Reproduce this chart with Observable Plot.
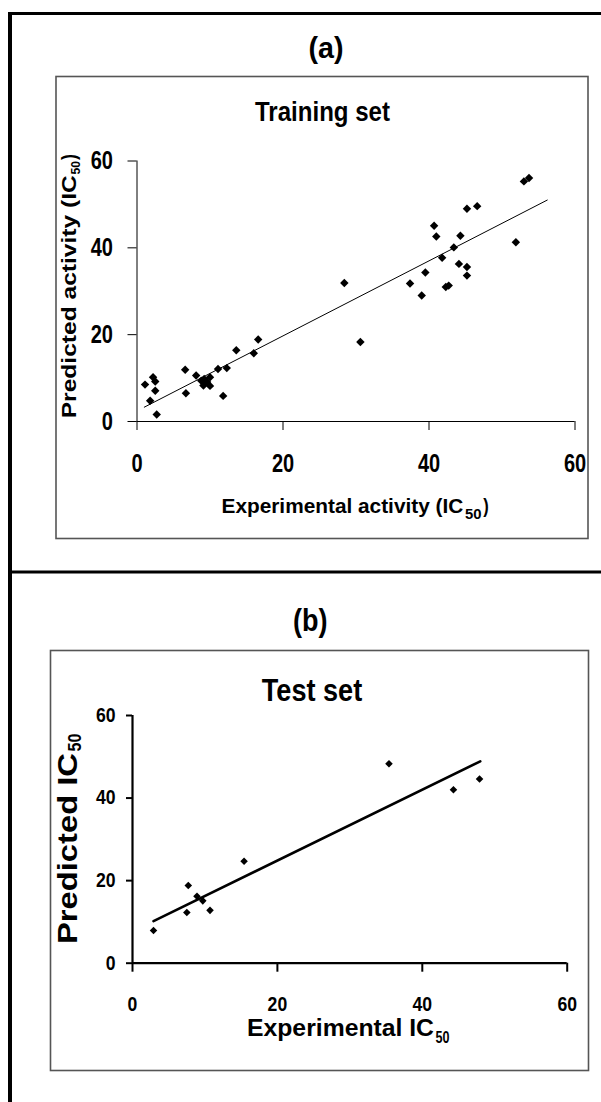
<!DOCTYPE html>
<html>
<head>
<meta charset="utf-8">
<script src="https://cdn.jsdelivr.net/npm/d3@7"></script>
<script src="https://cdn.jsdelivr.net/npm/@observablehq/plot@0.6"></script>
<style>
  html, body { margin: 0; padding: 0; background: #fff; }
  #page { position: relative; width: 601px; height: 1102px; overflow: hidden; background: #fff; }
  #page svg { position: absolute; left: 0; }
</style>
</head>
<body>
<div id="page"></div>
<script>
// ---------- data ----------
const axisTicks = [0, 20, 40, 60];

// (a) Training set
const trainExp  = [1.1, 1.8, 2.2, 2.5, 2.5, 2.7, 6.6, 6.7, 8.1, 8.8, 9.1, 9.2, 9.6, 10.0, 10.0, 11.1, 11.8, 12.3, 13.6, 16.0, 16.6,
                   28.4, 30.6, 37.4, 39.0, 39.5, 40.7, 41.0, 41.8, 42.3, 42.7, 43.4, 44.1, 44.3, 45.2, 45.2, 45.2, 46.6, 51.9, 53.0, 53.7];
const trainPred = [8.5, 4.8, 10.2, 9.2, 7.1, 1.6, 11.9, 6.5, 10.6, 9.4, 8.3, 9.8, 9.1, 10.2, 8.2, 12.1, 5.9, 12.3, 16.4, 15.7, 18.9,
                   31.9, 18.3, 31.8, 29.0, 34.3, 45.1, 42.6, 37.7, 31.0, 31.3, 40.1, 36.3, 42.8, 35.6, 33.6, 49.0, 49.6, 41.3, 55.3, 56.1];
const trainFitExp  = [1.0, 56.2];
const trainFitPred = [3.3, 51.0];

// (b) Test set
const testExp  = [2.9, 7.5, 7.7, 8.9, 9.7, 10.7, 15.4, 35.4, 44.3, 47.9];
const testPred = [7.9, 12.3, 18.8, 16.2, 15.1, 12.8, 24.7, 48.3, 42.0, 44.6];
const testFitExp  = [2.9, 48.0];
const testFitPred = [10.2, 48.9];

// ---------- helpers ----------
const FONT = '"Liberation Sans", Arial, Helvetica, sans-serif';
const page = document.getElementById("page");
const NS = "http://www.w3.org/2000/svg";

function squeeze(svg, k) {
  svg.querySelectorAll('g[aria-label$="tick label"] text').forEach(t => {
    const w = t.getComputedTextLength();
    t.setAttribute("textLength", (w * k).toFixed(2));
    t.setAttribute("lengthAdjust", "spacingAndGlyphs");
  });
}

// ---------- chart (a) ----------
const plotA = Plot.plot({
  width: 601, height: 560,
  marginLeft: 136.5, marginRight: 26.5, marginTop: 160.5, marginBottom: 139,
  x: {domain: [0, 60]},
  y: {domain: [0, 60]},
  style: {fontFamily: FONT, fontSize: "25px", fontWeight: "bold", color: "#000", background: "transparent", overflow: "visible"},
  marks: [
    Plot.axisX({ticks: axisTicks, tickSize: 9, tickPadding: 24, label: null, tickFormat: d => String(d)}),
    Plot.axisY({ticks: axisTicks, tickSize: 9, tickPadding: 15, label: null, tickFormat: d => String(d)}),
    Plot.ruleY([0], {stroke: "#000", strokeWidth: 1}),
    Plot.ruleX([0], {stroke: "#000", strokeWidth: 1}),
    Plot.line({length: trainFitExp.length}, {x: trainFitExp, y: trainFitPred, stroke: "#000", strokeWidth: 1}),
    Plot.dot({length: trainExp.length}, {x: trainExp, y: trainPred, symbol: "diamond2", r: 3.8, fill: "#000", stroke: "none"})
  ]
});
plotA.style.top = "0px";
page.appendChild(plotA);
squeeze(plotA, 0.8);

// ---------- chart (b) ----------
const plotB = Plot.plot({
  width: 601, height: 530,
  marginLeft: 132, marginRight: 34.3, marginTop: 143, marginBottom: 139.3,
  x: {domain: [0, 60]},
  y: {domain: [0, 60]},
  style: {fontFamily: FONT, fontSize: "20px", fontWeight: "bold", color: "#000", background: "transparent", overflow: "visible"},
  marks: [
    Plot.axisX({ticks: axisTicks, tickSize: 9, tickPadding: 25, strokeWidth: 2, label: null, tickFormat: d => String(d)}),
    Plot.axisY({ticks: axisTicks, tickSize: 6, tickPadding: 11, strokeWidth: 2, label: null, tickFormat: d => String(d)}),
    Plot.ruleY([0], {stroke: "#000", strokeWidth: 2.2}),
    Plot.ruleX([0], {stroke: "#000", strokeWidth: 2.2}),
    Plot.line({length: testFitExp.length}, {x: testFitExp, y: testFitPred, stroke: "#000", strokeWidth: 2.6}),
    Plot.dot({length: testExp.length}, {x: testExp, y: testPred, symbol: "diamond2", r: 3.4, fill: "#000", stroke: "none"})
  ]
});
plotB.style.top = "572px";
page.appendChild(plotB);
squeeze(plotB, 0.88);

// ---------- overlay: frames, titles, axis titles ----------
const ov = document.createElementNS(NS, "svg");
ov.setAttribute("width", 601);
ov.setAttribute("height", 1102);
ov.setAttribute("viewBox", "0 0 601 1102");
ov.style.top = "0px";
ov.style.pointerEvents = "none";
page.appendChild(ov);

function rect(x, y, w, h, attrs) {
  const r = document.createElementNS(NS, "rect");
  r.setAttribute("x", x); r.setAttribute("y", y);
  r.setAttribute("width", w); r.setAttribute("height", h);
  for (const k in attrs) r.setAttribute(k, attrs[k]);
  ov.appendChild(r);
}
// outer frame lines
rect(8, 12, 4, 1090, {fill: "#000"});
rect(8, 12, 593, 3, {fill: "#000"});
rect(8, 570.5, 593, 3, {fill: "#000"});
// inner boxes
rect(56, 76.5, 532, 462, {fill: "none", stroke: "#555", "stroke-width": 1.6});
rect(50.5, 650.5, 538, 420, {fill: "none", stroke: "#555", "stroke-width": 1.6});

function txt(str, x, y, size, length, rotate) {
  const t = document.createElementNS(NS, "text");
  t.textContent = str;
  t.setAttribute("font-family", FONT);
  t.setAttribute("font-weight", "bold");
  t.setAttribute("font-size", size);
  t.setAttribute("fill", "#000");
  t.setAttribute("text-anchor", "start");
  if (length) {
    t.setAttribute("textLength", length);
    t.setAttribute("lengthAdjust", "spacingAndGlyphs");
  }
  if (rotate) {
    t.setAttribute("transform", `translate(${x},${y}) rotate(-90)`);
  } else {
    t.setAttribute("x", x); t.setAttribute("y", y);
  }
  ov.appendChild(t);
  return t;
}

// panel (a)
txt("(a)", 326 - 17.5, 58, 30, 35);
txt("Training set", 322.5 - 67.5, 120.7, 27, 135);
txt("Experimental activity (IC", 221.5, 513, 21, 241.8);
txt("50", 465, 518.5, 14, 16.5);
txt(")", 483.3, 513, 21, 5.5);
txt("Predicted activity (IC", 76, 418.3, 20, 243, true);
txt("50", 80, 174.5, 13, 13.5, true);
txt(")", 76, 160, 20, 6, true);

// panel (b)
txt("(b)", 310.4 - 17.3, 631, 32, 34.5);
txt("Test set", 312 - 50.2, 701, 32, 100.4);
txt("Experimental IC", 247, 1036, 24, 187);
txt("50", 435.5, 1043, 17, 14);
txt("Predicted IC", 77, 944, 27, 191, true);
txt("50", 81, 751.5, 18, 18, true);
</script>
</body>
</html>
